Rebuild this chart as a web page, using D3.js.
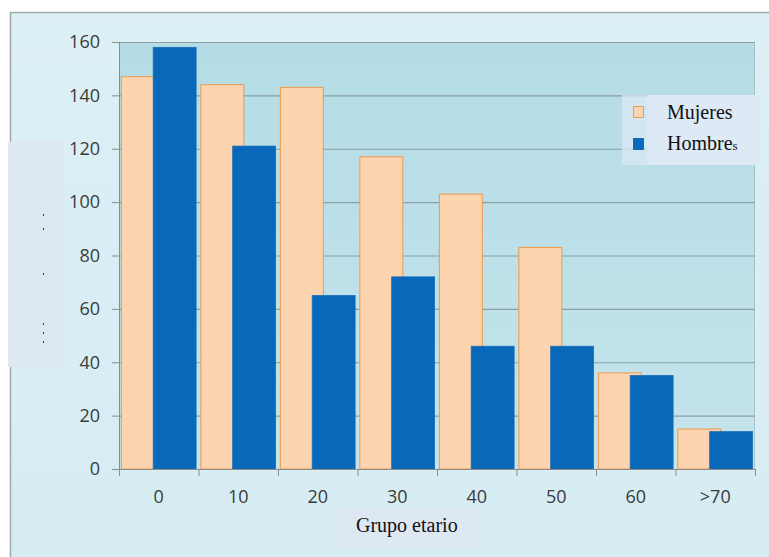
<!DOCTYPE html>
<html>
<head>
<meta charset="utf-8">
<script src="https://cdn.jsdelivr.net/npm/d3@7/dist/d3.min.js"></script>
<style>
  html, body { margin: 0; padding: 0; background: #fff; }
  svg { display: block; }
  .tick text { font-family: "Open Sans", sans-serif; font-size: 18px; fill: #3b3b3b; }
</style>
</head>
<body>
<div id="chart-container"></div>
<script>
// values
const categories = ['0', '10', '20', '30', '40', '50', '60', '>70'];
const mujeres = [147, 144, 143, 117, 103, 83, 36, 15];
const hombres = [158, 121, 65, 72, 46, 46, 35, 14];
const yTicks = [0, 20, 40, 60, 80, 100, 120, 140, 160];
const seriesNames = ['Mujeres', 'Hombre'];
const xTitle = 'Grupo etario';

const serifFont = 'Liberation Serif, DejaVu Serif, Noto Serif, Tinos, Times New Roman, Times, FreeSerif, serif';
const width = 769, height = 557;
const plot = {left: 119, right: 755, top: 42, bottom: 469};

const svg = d3.select('#chart-container').append('svg')
  .attr('width', width).attr('height', height);

const defs = svg.append('defs');
const outerGrad = defs.append('linearGradient').attr('id', 'outer').attr('x1', 0).attr('y1', 0).attr('x2', 0).attr('y2', 1);
outerGrad.append('stop').attr('offset', '0%').attr('stop-color', '#dcf0f6');
outerGrad.append('stop').attr('offset', '100%').attr('stop-color', '#d6ecf3');
const plotGrad = defs.append('linearGradient').attr('id', 'plotbg').attr('x1', 0).attr('y1', 0).attr('x2', 0).attr('y2', 1);
plotGrad.append('stop').attr('offset', '0%').attr('stop-color', '#b5dce6');
plotGrad.append('stop').attr('offset', '100%').attr('stop-color', '#c4e4ec');

// chart frame
svg.append('rect').attr('x', 10.5).attr('y', 12.5).attr('width', width).attr('height', height)
  .attr('fill', 'url(#outer)').attr('stroke', '#a4a9ab').attr('stroke-width', 1.5);

const y = d3.scaleLinear().domain([0, 160]).range([plot.bottom, plot.top]);
const x = d3.scaleBand().domain(categories).range([plot.left, plot.right]);
const xEdges = d3.scaleLinear().domain([0, categories.length]).range([plot.left, plot.right]);
const bw = x.bandwidth();

svg.append('rect').attr('x', plot.left).attr('y', plot.top)
  .attr('width', plot.right - plot.left).attr('height', plot.bottom - plot.top)
  .attr('fill', 'url(#plotbg)');

// right border of plot area
svg.append('line').attr('x1', plot.right - 0.5).attr('x2', plot.right - 0.5)
  .attr('y1', plot.top).attr('y2', plot.bottom).attr('stroke', '#a9c2c9');

// gridlines
svg.append('g').attr('transform', `translate(${plot.left},0)`)
  .call(d3.axisLeft(y).tickValues(yTicks).tickSize(-(plot.right - plot.left)).tickFormat(''))
  .call(g => g.select('.domain').remove())
  .call(g => g.selectAll('line').attr('stroke', '#8a9ea4').attr('stroke-width', 1.2));

// bars
svg.append('g').selectAll('rect').data(mujeres).enter().append('rect')
  .attr('x', (d, i) => x(categories[i]) + bw * 0.03)
  .attr('width', bw * 0.54)
  .attr('y', d => y(d))
  .attr('height', d => y(0) - y(d))
  .attr('fill', '#fdd4b0').attr('stroke', '#ef9a48').attr('stroke-width', 1);

svg.append('g').selectAll('rect').data(hombres).enter().append('rect')
  .attr('x', (d, i) => x(categories[i]) + bw * 0.43)
  .attr('width', bw * 0.54)
  .attr('y', d => y(d))
  .attr('height', d => y(0) - y(d))
  .attr('fill', '#0868b9').attr('stroke', '#1a6db5').attr('stroke-width', 0.8);

// y axis
svg.append('g').attr('transform', `translate(${plot.left},0)`)
  .call(d3.axisLeft(y).tickValues(yTicks).tickSize(7).tickPadding(12))
  .call(g => g.select('.domain').attr('stroke', '#8c8c8c'))
  .call(g => g.selectAll('line').attr('stroke', '#8c8c8c'));

// x axis: boundary ticks and centred labels
svg.append('g').attr('transform', `translate(0,${plot.bottom})`)
  .call(d3.axisBottom(xEdges).tickValues(d3.range(categories.length + 1)).tickSize(7).tickFormat('').tickSizeOuter(0))
  .call(g => g.select('.domain').attr('stroke', '#8c8c8c'))
  .call(g => g.selectAll('line').attr('stroke', '#8c8c8c'));

svg.append('g').attr('transform', `translate(0,${plot.bottom})`)
  .call(d3.axisBottom(x).tickSize(0).tickPadding(21))
  .call(g => g.select('.domain').remove());

// pasted-over boxes
svg.append('rect').attr('x', 8).attr('y', 142).attr('width', 55).attr('height', 225).attr('fill', '#dde8f3');
[214, 228, 273, 323, 332, 341].forEach(dy => {
  svg.append('rect').attr('x', 43).attr('y', dy).attr('width', 1).attr('height', 2).attr('fill', '#333');
});

svg.append('rect').attr('x', 337).attr('y', 508).attr('width', 145).attr('height', 40).attr('fill', '#dde8f3');
svg.append('text').attr('x', 356).attr('y', 532)
  .attr('font-family', serifFont).attr('font-size', 20).attr('fill', '#111')
  .text(xTitle);

// legend
const legend = svg.append('g');
legend.append('rect').attr('x', 622).attr('y', 95).attr('width', 25).attr('height', 70).attr('fill', '#dceaf3').attr('opacity', 0.7);
legend.append('rect').attr('x', 647).attr('y', 95).attr('width', 113).attr('height', 70).attr('fill', '#dde9f4');
legend.append('rect').attr('x', 633.5).attr('y', 106.5).attr('width', 10).attr('height', 11)
  .attr('fill', '#fdd4b0').attr('stroke', '#ef9a48');
legend.append('rect').attr('x', 633.5).attr('y', 138.5).attr('width', 10).attr('height', 11)
  .attr('fill', '#0868b9').attr('stroke', '#1a6db5');
const legText = legend.selectAll('text.leg').data(seriesNames).enter().append('text').attr('class', 'leg')
  .attr('x', 667).attr('y', (d, i) => 119 + i * 31)
  .attr('font-family', serifFont).attr('font-size', 20).attr('fill', '#111')
  .text(d => d);
legText.filter((d, i) => i === 1).append('tspan').attr('font-size', 13).text('s');
</script>
</body>
</html>
